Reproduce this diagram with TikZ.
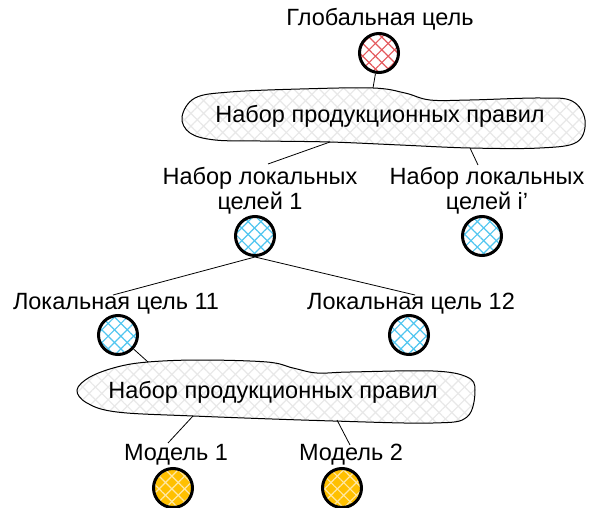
\documentclass[tikz,border=0pt]{standalone}
\usepackage{fontspec}
\setmainfont{Liberation Sans}
\usetikzlibrary{patterns.meta}

\definecolor{goalred}{RGB}{228,88,92}
\definecolor{goalblue}{RGB}{80,198,240}
\definecolor{modelorange}{RGB}{255,192,0}
\definecolor{modellines}{RGB}{255,232,165}
\definecolor{rulegray}{RGB}{232,232,232}

\tikzset{
  hatch/.style={
    preaction={pattern={Lines[angle=45,distance=9pt,line width=1.2pt]},pattern color=#1},
    preaction={pattern={Lines[angle=-45,distance=9pt,line width=1.2pt]},pattern color=#1}},
  goal/.style 2 args={circle, minimum size=39pt, inner sep=0pt, line width=3pt,
    draw=black, preaction={fill=#2}, hatch=#1},
  rules/.style={draw=black, line width=1pt, preaction={fill=white}, hatch=rulegray},
  lbl/.style={font=\fontsize{23.5}{25}\selectfont, inner sep=0pt, align=center},
  link/.style={draw=black, line width=0.8pt},
}

\begin{document}
\begin{tikzpicture}[x=1pt, y=-1pt]
  \useasboundingbox (0,0) rectangle (590,508);

  % top level: global goal and its rule set
  \node[lbl, anchor=base] (tGlob) at (380,26) {Глобальная цель};
  \node[goal={goalred}{white}] (gGlob) at (379,53) {};

  \path[rules] plot[smooth cycle, tension=0.6] coordinates {
    (182,117) (195,98) (230,92) (300,89) (373,88) (405,93) (430,100)
    (470,100) (540,98) (572,101) (585,120) (577,142) (540,148) (470,148)
    (400,145) (330,142) (260,141) (215,140) (190,133)};
  \node[lbl, anchor=base] (rules1) at (380,123) {Набор продукционных правил};
  \coordinate (r1top) at (373,88);
  \coordinate (r1botL) at (330,142);
  \coordinate (r1botR) at (470,148);

  % local goal sets (base anchor sits on the second line)
  \node[lbl, anchor=base] (tSet1) at (260,210) {Набор локальных\\целей 1};
  \node[lbl, anchor=base] (tSetI) at (487,210) {Набор локальных\\целей i’};
  \coordinate (set1top) at (268,164);
  \coordinate (setItop) at (478,165);
  \node[goal={goalblue}{white}] (gSet1) at (255,236) {};
  \node[goal={goalblue}{white}] (gSetI) at (482,236) {};

  % local goals
  \node[lbl, anchor=base] (tLoc11) at (116,310) {Локальная цель 11};
  \node[lbl, anchor=base] (tLoc12) at (411,310) {Локальная цель 12};
  \coordinate (loc11top) at (113,295);
  \coordinate (loc12top) at (415,295);
  \node[goal={goalblue}{white}] (gLoc11) at (118,335) {};
  \node[goal={goalblue}{white}] (gLoc12) at (409,335) {};

  % lower rule set
  \path[rules] plot[smooth cycle, tension=0.6] coordinates {
    (77,390) (90,377) (117,367) (148,362) (200,360) (267,362) (293,368)
    (317,373) (350,372) (433,371) (467,377) (475,390) (467,417) (433,423)
    (333,421) (193,416) (117,412) (87,403)};
  \node[lbl, anchor=base] (rules2) at (273,398) {Набор продукционных правил};
  \coordinate (r2top) at (148,362);
  \coordinate (r2botL) at (193,416);
  \coordinate (r2botR) at (337,420);

  % models
  \node[lbl, anchor=base] (tMod1) at (176,460) {Модель 1};
  \node[lbl, anchor=base] (tMod2) at (351,460) {Модель 2};
  \coordinate (mod1top) at (168,443);
  \coordinate (mod2top) at (350,445);
  \node[goal={modellines}{modelorange}] (gMod1) at (173,488) {};
  \node[goal={modellines}{modelorange}] (gMod2) at (342,488) {};

  % connectors
  \path[link] (gGlob) -- (r1top);
  \path[link] (r1botL) -- (set1top);
  \path[link] (r1botR) -- (setItop);
  \path[link] (gSet1.south) -- (loc11top);
  \path[link] (gSet1.south) -- (loc12top);
  \path[link] (gLoc11) -- (r2top);
  \path[link] (r2botL) -- (mod1top);
  \path[link] (r2botR) -- (mod2top);
\end{tikzpicture}
\end{document}
